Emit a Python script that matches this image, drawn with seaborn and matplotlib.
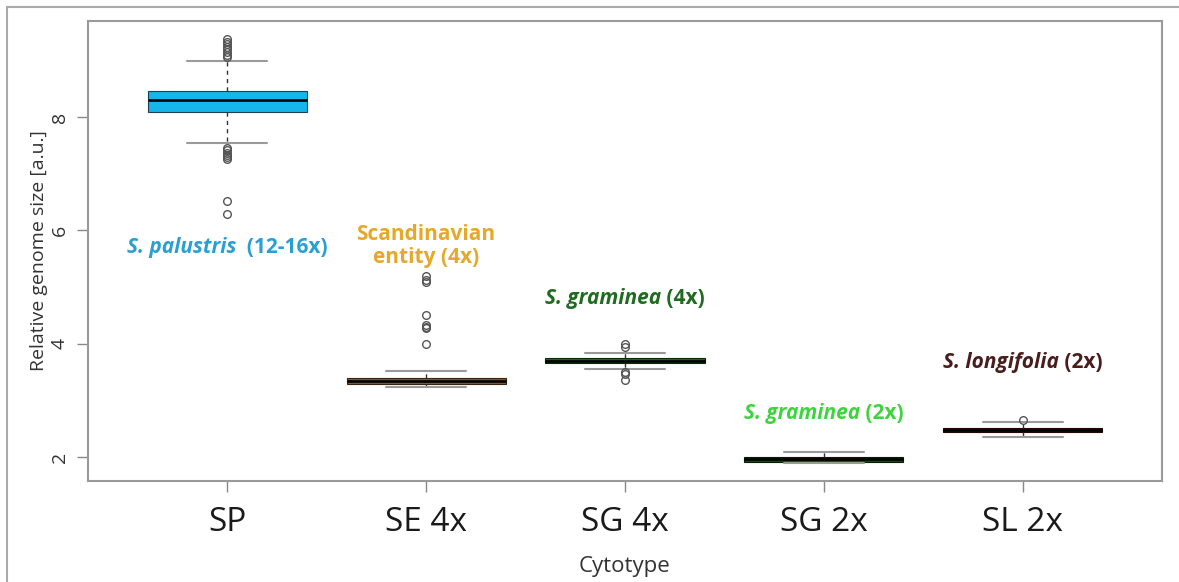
import numpy as np
import pandas as pd
import matplotlib
matplotlib.use("Agg")
import matplotlib.pyplot as plt
from matplotlib.lines import Line2D
from matplotlib.transforms import offset_copy
import seaborn as sns

# Cytotype categories (x axis)
cytotypes = ["SP", "SE 4x", "SG 4x", "SG 2x", "SL 2x"]

# Relative genome size measurements per cytotype [a.u.]
sp_values = [6.28, 6.52, 7.25, 7.29, 7.33, 7.37, 7.41, 7.45, 7.54, 7.90,
             8.08,
             8.10, 8.12, 8.14, 8.16, 8.18, 8.20, 8.23, 8.26, 8.28,
             8.30,
             8.32, 8.34, 8.36, 8.37, 8.38, 8.40, 8.41, 8.42, 8.44,
             8.45,
             8.70, 8.98, 9.05, 9.10, 9.15, 9.20, 9.24, 9.28, 9.33, 9.38]
se4_values = [3.24, 3.25, 3.26, 3.26, 3.27, 3.27, 3.28, 3.28, 3.285, 3.29,
              3.29,
              3.295, 3.30, 3.305, 3.31, 3.315, 3.32, 3.325, 3.33, 3.335,
              3.34,
              3.345, 3.35, 3.355, 3.36, 3.365, 3.37, 3.375, 3.38, 3.385,
              3.39,
              3.42, 3.51, 4.00, 4.27, 4.30, 4.33, 4.50, 5.09, 5.12, 5.20]
sg4_values = [3.36, 3.47, 3.50, 3.56,
              3.65,
              3.67, 3.68, 3.69,
              3.70,
              3.71, 3.72, 3.73,
              3.74,
              3.78, 3.84, 3.94, 4.00]
sg2_values = [1.89, 1.91, 1.92, 1.95, 1.97, 1.99, 2.00, 2.05, 2.09]
sl2_values = [2.36, 2.42, 2.44, 2.46, 2.48, 2.50, 2.52, 2.62, 2.65]

# Box fill / outline colours and label colours
box_colors = ["#14b6ec", "#8a5a2a", "#1a6a1e", "#1d4a1d", "#5a1c1c"]
edge_colors = ["#1f3f55", "#3a2410", "#0a2a0a", "#0a1a0a", "#240808"]
label_colors = ["#2a9fd3", "#e6a82a", "#1f6b1f", "#3fd43f", "#4a1c1c"]

# Annotation texts: (text, style) pieces and anchor (category index, value)
annotations = [
    ([("S. palustris", "italic"), ("  (12-16x)", "normal")], 0, 5.70),
    ([("Scandinavian", "normal")], 1, 5.92),
    ([("entity (4x)", "normal")], 1, 5.52),
    ([("S. graminea", "italic"), (" (4x)", "normal")], 2, 4.80),
    ([("S. graminea", "italic"), (" (2x)", "normal")], 3, 2.77),
    ([("S. longifolia", "italic"), (" (2x)", "normal")], 4, 3.67),
]
annotation_color_idx = [0, 1, 1, 2, 3, 4]

groups = [sp_values, se4_values, sg4_values, sg2_values, sl2_values]
df = pd.concat(
    [pd.DataFrame({"Cytotype": c, "size": v}) for c, v in zip(cytotypes, groups)],
    ignore_index=True,
)

sns.set_theme(style="white")
plt.rcParams["font.family"] = ["Open Sans", "DejaVu Sans"]

fig = plt.figure(figsize=(11.79, 5.82), dpi=100)
ax = fig.add_axes([88 / 1179, 1 - 481 / 582, (1162 - 88) / 1179, (481 - 21) / 582])

sns.boxplot(
    data=df, x="Cytotype", y="size", hue="Cytotype", order=cytotypes,
    hue_order=cytotypes, palette=box_colors, legend=False, saturation=1,
    width=0.8, linewidth=1.0, linecolor="#1a1a1a", ax=ax,
    whiskerprops=dict(linestyle=(0, (3, 3)), color="#333333", linewidth=1.0),
    capprops=dict(color="#9a9a9a", linewidth=1.5),
    medianprops=dict(color="black", linewidth=1.9),
    flierprops=dict(marker="o", markerfacecolor="none", markeredgecolor="#555555",
                    markersize=5.5, markeredgewidth=1.0),
)

# Box outlines in a darker shade of each fill
for patch, ec in zip([p for p in ax.patches], edge_colors):
    patch.set_edgecolor(ec)
    patch.set_linewidth(0.8)

ax.set_xlim(-0.7, 4.7)
ax.set_ylim(1.576, 9.694)
ax.set_yticks([2, 4, 6, 8])
ax.set_yticklabels(["2", "4", "6", "8"], rotation=90, va="center")
ax.tick_params(axis="y", labelsize=14, length=8, width=1, color="#888888",
               labelcolor="#333333", pad=6, left=True)
ax.tick_params(axis="x", labelsize=24, length=8, width=1, color="#888888",
               labelcolor="#1a1a1a", pad=10, bottom=True)
for s in ax.spines.values():
    s.set_visible(True)
    s.set_color("#9a9a9a")
    s.set_linewidth(1.5)

ax.set_xlabel("Cytotype", fontsize=16, color="#333333", labelpad=12)
ax.set_ylabel("Relative genome size [a.u.]", fontsize=14, color="#333333", labelpad=2)

# Mixed-style (italic / upright) bold labels, centred on each category
fig.canvas.draw()
renderer = fig.canvas.get_renderer()
for (parts, xi, yv), ci in zip(annotations, annotation_color_idx):
    texts, widths = [], []
    for s, style in parts:
        t = ax.text(xi, yv, s, color=label_colors[ci], fontsize=15,
                    fontweight="bold", fontstyle=style, ha="left", va="center")
        widths.append(t.get_window_extent(renderer).width)
        texts.append(t)
    off = -sum(widths) / 2
    for t, w in zip(texts, widths):
        t.set_transform(offset_copy(ax.transData, fig=fig, x=off * 72 / fig.dpi,
                                    y=0, units="points"))
        off += w

# Thin outer frame lines along the top and left of the figure
fig.add_artist(Line2D([7 / 1179, 7 / 1179], [0, 1 - 7 / 582],
                      transform=fig.transFigure, color="#aaaaaa", lw=1.5))
fig.add_artist(Line2D([7 / 1179, 1], [1 - 7 / 582, 1 - 7 / 582],
                      transform=fig.transFigure, color="#aaaaaa", lw=1.5))

fig.savefig("out.png", dpi=100, facecolor="white")
